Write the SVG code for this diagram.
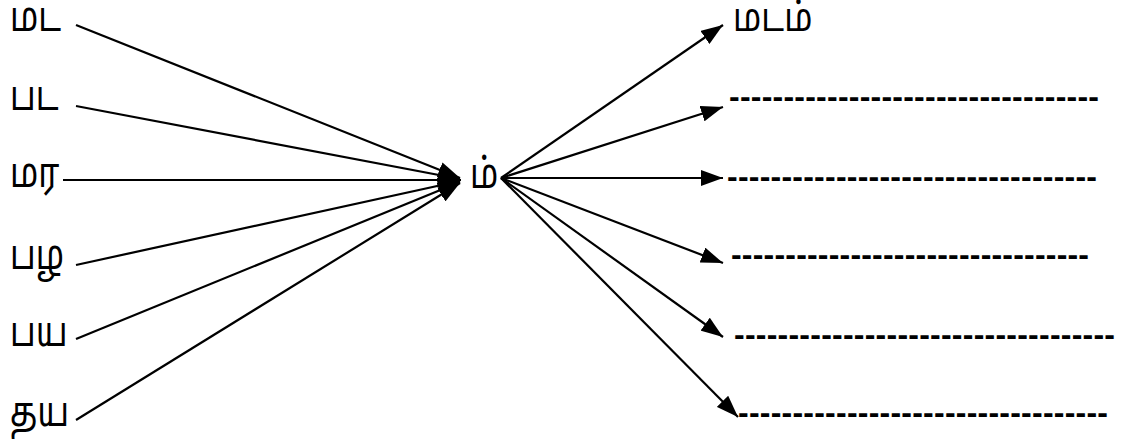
<svg xmlns="http://www.w3.org/2000/svg" width="1123" height="441" viewBox="0 0 1123 441">
<defs>
<marker id="ah" markerUnits="userSpaceOnUse" markerWidth="24" markerHeight="16" refX="22" refY="8" orient="auto">
<path d="M0,0 L22,8 L0,16 Z" fill="#000"/>
</marker>
<style>
.t{font-family:"Noto Sans Tamil","Lohit Tamil","Latha","Noto Sans",sans-serif;font-size:33px;fill:#000}
.d{font-family:"Liberation Sans",Arial,sans-serif;font-size:32px;font-weight:bold;fill:#000}
.c line{stroke:#000;stroke-width:2.2;marker-end:url(#ah)}
</style>
</defs>
<rect width="1123" height="441" fill="#fff"/>
<g id="n-mada"><text class="t" transform="translate(10,31) scale(1,1.25)">மட</text></g>
<g id="n-pada"><text class="t" transform="translate(10,110) scale(1,1.25)">பட</text></g>
<g id="n-mara"><text class="t" transform="translate(10,187) scale(1,1.25)">மர</text></g>
<g id="n-pazha"><text class="t" transform="translate(10,269) scale(1,1.25)">பழ</text></g>
<g id="n-paya"><text class="t" transform="translate(10,346) scale(1,1.25)">பய</text></g>
<g id="n-thaya"><text class="t" transform="translate(10,426) scale(1,1.25)">தய</text></g>
<g id="n-m"><text class="t" transform="translate(470,188) scale(1,1.25)">ம்</text></g>
<g id="n-madam"><text class="t" transform="translate(733,31) scale(1,1.2)">மடம்</text></g>
<g id="n-b1"><text class="d" x="729" y="107" textLength="370" lengthAdjust="spacing">----------------------------------</text></g>
<g id="n-b2"><text class="d" x="727" y="187" textLength="370" lengthAdjust="spacing">----------------------------------</text></g>
<g id="n-b3"><text class="d" x="731" y="265" textLength="358" lengthAdjust="spacing">---------------------------------</text></g>
<g id="n-b4"><text class="d" x="734" y="345" textLength="381" lengthAdjust="spacing">-----------------------------------</text></g>
<g id="n-b5"><text class="d" x="738" y="423" textLength="370" lengthAdjust="spacing">----------------------------------</text></g>
<g id="connectors" class="c">
<line x1="76" y1="25" x2="460" y2="178"/>
<line x1="76" y1="106" x2="460" y2="179"/>
<line x1="63" y1="180" x2="461" y2="180"/>
<line x1="76" y1="265" x2="460" y2="181"/>
<line x1="76" y1="339" x2="460" y2="182"/>
<line x1="76" y1="420" x2="460" y2="183"/>
<line x1="501" y1="178" x2="723" y2="25"/>
<line x1="501" y1="178" x2="723" y2="107"/>
<line x1="501" y1="178" x2="723" y2="178"/>
<line x1="501" y1="178" x2="723" y2="263"/>
<line x1="501" y1="178" x2="723" y2="337"/>
<line x1="501" y1="178" x2="738" y2="417"/>
</g>
</svg>
